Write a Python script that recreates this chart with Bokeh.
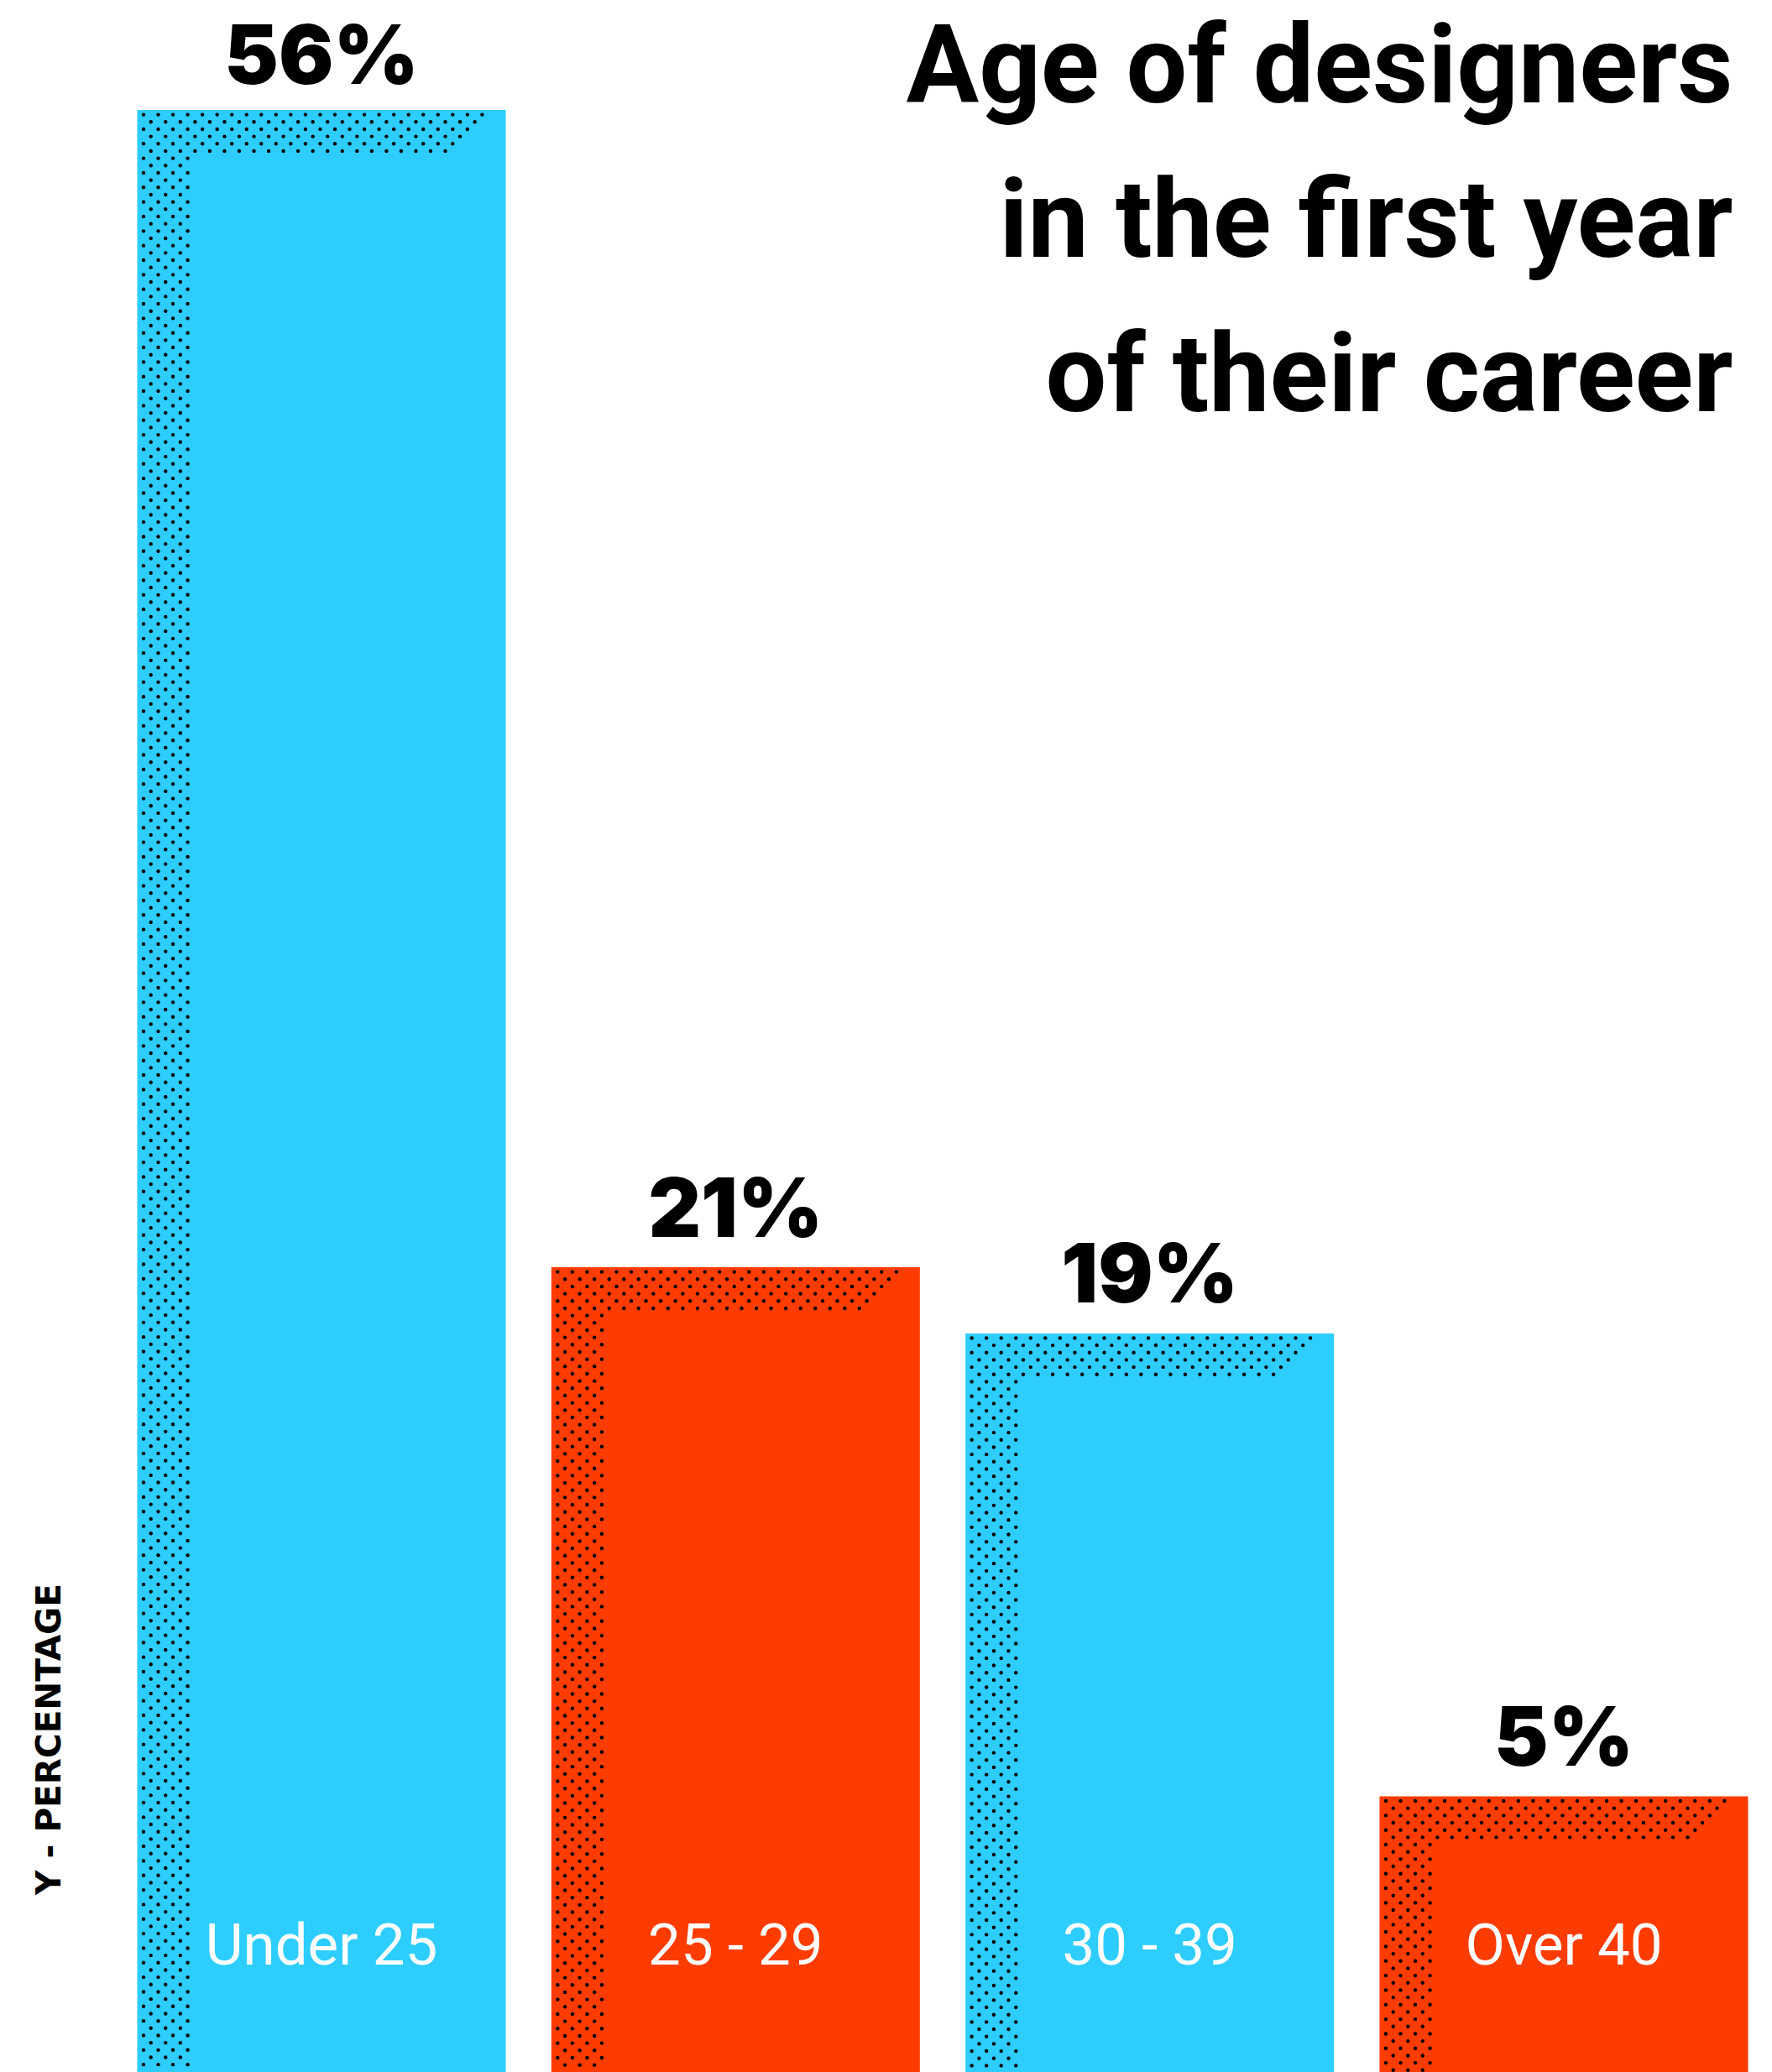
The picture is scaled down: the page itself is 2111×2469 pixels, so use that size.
import math
from bokeh.plotting import figure
from bokeh.models import Range1d, Label, ColumnDataSource
from bokeh.embed import file_html
from bokeh.resources import INLINE
from bokeh.core.properties import value

# ---- data ----
categories = ["Under 25", "25 - 29", "30 - 39", "Over 40"]
percentages = [56, 21, 19, 5]
pct_labels = ["56%", "21%", "19%", "5%"]
title_lines = ["Age of designers", "in the first year", "of their career"]
y_axis_label = "Y - PERCENTAGE"

# ---- style ----
BLUE = "#2ECDFF"
RED = "#FF3C00"
bar_colors = [BLUE, RED, BLUE, RED]

W, H = 2111, 2469
PPX = 493.33          # pixels per category step
PPY = 39.4            # pixels per percentage point
ZERO_FROM_TOP = 2337  # pixel row of value 0
FIRST_CENTER = 382.5  # pixel column of the first category centre
x0 = -FIRST_CENTER / PPX
x1 = x0 + W / PPX
y_top = ZERO_FROM_TOP / PPY
y_bot = -(H - ZERO_FROM_TOP) / PPY
BAR_W = 0.89
DESC = 0.344  # baseline correction (fraction of font size) for alphabetic text

xs = list(range(len(categories)))

p = figure(width=W, height=H, x_range=Range1d(x0, x1), y_range=Range1d(y_bot, y_top),
           output_backend="svg", toolbar_location=None, min_border=0,
           x_axis_location=None, y_axis_location=None)
p.grid.visible = False
p.outline_line_color = None
p.background_fill_color = "white"
p.border_fill_color = "white"

# bars
src = ColumnDataSource(dict(x=xs, top=percentages, color=bar_colors))
p.vbar(x="x", top="top", bottom=y_bot, width=BAR_W, source=src,
       fill_color="color", line_color=None)

# dotted "shadow" strips (left strip + top strip with a diagonal cut)
bar_w_px = BAR_W * PPX
DX, DY = 8.77, 8.67
dot_x, dot_y = [], []
for xc, v in zip(xs, percentages):
    height_px = (v - y_bot) * PPY
    r = 0
    while True:
        oy = 5.5 + r * DY
        if oy > height_px - 1:
            break
        c = 0
        while True:
            ox = 7.5 + c * DX
            if ox > bar_w_px - 3:
                break
            if (r + c) % 2 == 0:
                in_left = ox <= 60.5
                in_top = oy <= 49 and ox <= bar_w_px - oy - 8
                if in_left or in_top:
                    dot_x.append(xc - BAR_W / 2 + ox / PPX)
                    dot_y.append(v - oy / PPY)
            c += 1
        r += 1
p.scatter(dot_x, dot_y, size=4.4, marker="circle", fill_color="black", line_color=None)

# value labels above bars (baseline 37px above the bar, kept inside the canvas)
PCT_SIZE = 97
label_base_px = [max(ZERO_FROM_TOP - v * PPY - 37, 99) for v in percentages]
label_y = [(ZERO_FROM_TOP - b + 0.36 * PCT_SIZE) / PPY for b in label_base_px]
p.text(x=xs, y=label_y, text=pct_labels, text_font=value("'Inter Black', Inter"),
       text_font_style="bold", text_font_size=f"{PCT_SIZE}px", text_align="center",
       text_baseline="alphabetic", text_color="black")

# category labels inside bars
CAT_SIZE = 69
cat_y = [(DESC * CAT_SIZE - 4) / PPY] * len(categories)
p.text(x=xs, y=cat_y, text=categories, text_font=value("Roboto"), text_font_style="normal",
       text_font_size=f"{CAT_SIZE}px", text_align="center", text_baseline="alphabetic",
       text_color="white")

# title (right aligned, three lines)
TITLE_SIZE = 129
title_baselines = [121, 305, 489]  # px from top
for line, b in zip(title_lines, title_baselines):
    p.add_layout(Label(x=2064, y=H - (b - DESC * TITLE_SIZE), x_units="screen", y_units="screen",
                       text=line, text_align="right", text_baseline="alphabetic",
                       text_font="Roboto", text_font_style="bold",
                       text_font_size=f"{TITLE_SIZE}px", text_color="black"))

# vertical axis caption
YL_SIZE = 40.5
p.add_layout(Label(x=70.7 - 0.336 * YL_SIZE, y=H - 2072, x_units="screen", y_units="screen",
                   text=y_axis_label, angle=math.pi / 2, text_align="center",
                   text_baseline="alphabetic", text_font="DejaVu Sans", text_font_style="bold",
                   text_font_size=f"{YL_SIZE}px", text_color="black"))

open("out.html", "w").write(file_html(p, INLINE))
